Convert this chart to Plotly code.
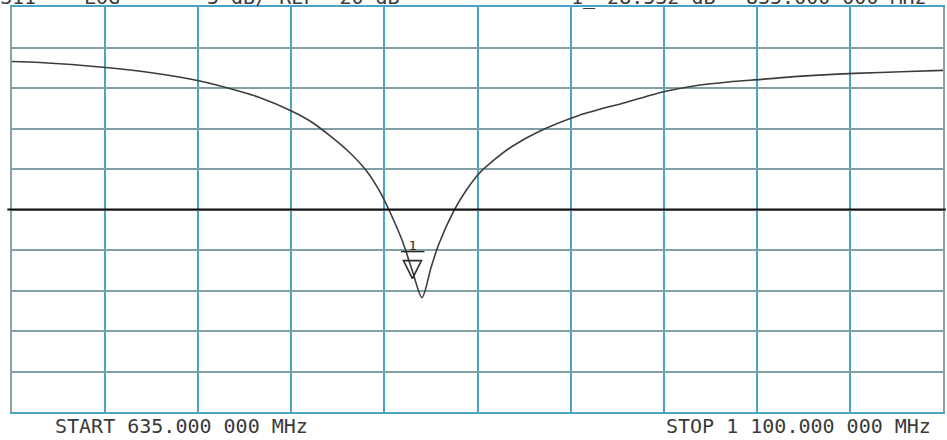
import plotly.graph_objects as go

# S11 sweep (MHz, dB)
freqMHz = [635.0, 649.0, 681.8, 703.8, 727.7, 743.7, 758.6, 775.1, 785.0, 802.0,
           811.9, 818.4, 823.4, 829.9, 834.9, 839.8, 844.3, 848.3, 855.8, 861.8,
           868.3, 876.7, 884.7, 898.2, 918.1, 941.5, 961.5, 977.9, 992.9, 1009.3,
           1027.7, 1055.7, 1082.6, 1100.0]
s11dB = [-1.73, -1.85, -2.47, -3.08, -4.07, -5.06, -6.17, -7.90, -9.26, -12.59,
         -15.18, -17.65, -20.12, -23.83, -27.53, -30.87, -27.16, -24.20, -20.12, -17.65,
         -15.55, -13.70, -12.22, -10.37, -8.39, -6.78, -5.40, -4.66, -4.25, -3.94,
         -3.57, -3.20, -2.96, -2.83]

startMHz = 635.0
stopMHz = 1100.0
refDB = -20
scaleDB = 5
markerMHz = [835.0]
markerDB = [-28.532]

headerLeft = ["S11", "LOG", "5 dB/ REF -20 dB"]
headerRight = ["1_-28.532 dB", "835.000 000 MHz"]
footer = ["START 635.000 000 MHz", "STOP 1 100.000 000 MHz"]

textFont = dict(family="DejaVu Sans Mono", size=20, color="#3a3a3a")

fig = go.Figure()
fig.add_trace(go.Scatter(x=freqMHz, y=s11dB, mode="lines",
                         line=dict(color="#3c3c3c", width=1.6, shape="spline", smoothing=0.8),
                         hoverinfo="skip"))
# arrow-down has its tip on the data point
fig.add_trace(go.Scatter(x=markerMHz, y=markerDB, mode="markers",
                         marker=dict(symbol="arrow-down-open", size=18, color="#2e2e2e",
                                     line=dict(width=1.6, color="#2e2e2e")),
                         hoverinfo="skip"))

fig.add_shape(type="line", xref="paper", yref="y", x0=-0.005, x1=1.003,
              y0=refDB, y1=refDB, line=dict(color="#111111", width=2))

# marker number with its bar
fig.add_annotation(x=markerMHz[0], y=markerDB[0], xref="x", yref="y",
                   text="<u>\u00a01\u00a0</u>", showarrow=False, yanchor="bottom",
                   yshift=24, font=dict(family="DejaVu Sans Mono", size=13, color="#222222"))

for txt, px in zip(headerLeft, [-0.015, 0.075, 0.207]):
    fig.add_annotation(x=px, y=1, xref="paper", yref="paper", text=txt, showarrow=False,
                       xanchor="left", yanchor="bottom", yshift=-4, font=textFont)
for txt, px in zip(headerRight, [0.598, 0.786]):
    fig.add_annotation(x=px, y=1, xref="paper", yref="paper", text=txt, showarrow=False,
                       xanchor="left", yanchor="bottom", yshift=-4, font=textFont)

fig.add_annotation(x=0.044, y=0, xref="paper", yref="paper", text=footer[0], showarrow=False,
                   xanchor="left", yanchor="top", yshift=0, font=textFont)
fig.add_annotation(x=0.989, y=0, xref="paper", yref="paper", text=footer[1], showarrow=False,
                   xanchor="right", yanchor="top", yshift=0, font=textFont)

fig.update_xaxes(range=[startMHz, stopMHz], tick0=startMHz, dtick=(stopMHz - startMHz) / 10,
                 showticklabels=False, ticks="", showgrid=True, gridcolor="#4aa5c4", gridwidth=2,
                 zeroline=False, showline=True, linecolor="#4aa5c4", linewidth=2, mirror=True)
fig.update_yaxes(range=[refDB - 5 * scaleDB, refDB + 5 * scaleDB], tick0=refDB, dtick=scaleDB,
                 showticklabels=False, ticks="", showgrid=True, gridcolor="#819fa4", gridwidth=2,
                 zeroline=False, showline=True, linecolor="#8aa2a6", linewidth=2, mirror=True)

fig.update_layout(width=947, height=440, margin=dict(l=12, r=2, t=7, b=28),
                  paper_bgcolor="white", plot_bgcolor="white", showlegend=False)

fig.write_html("out.html", config={"displayModeBar": False},
               post_script="document.body.style.margin='0';document.body.style.overflow='hidden';")
